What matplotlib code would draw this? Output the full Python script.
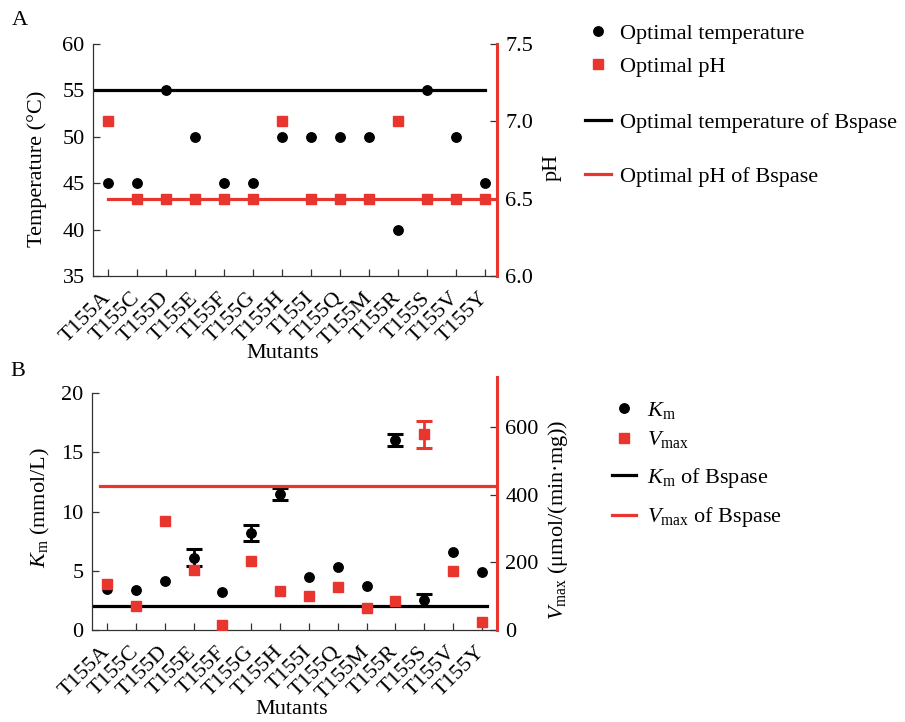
import numpy as np
import matplotlib.pyplot as plt
from matplotlib.lines import Line2D

plt.rcParams['font.family'] = ['Liberation Serif', 'DejaVu Serif']
plt.rcParams['mathtext.fontset'] = 'custom'
plt.rcParams['mathtext.rm'] = 'Liberation Serif'
plt.rcParams['mathtext.it'] = 'Liberation Serif:italic'
plt.rcParams['font.size'] = 16

mutants = ['T155A', 'T155C', 'T155D', 'T155E', 'T155F', 'T155G', 'T155H',
           'T155I', 'T155Q', 'T155M', 'T155R', 'T155S', 'T155V', 'T155Y']
opt_temp = [45, 45, 55, 50, 45, 45, 50, 50, 50, 50, 40, 55, 50, 45]
opt_ph = [7.0, 6.5, 6.5, 6.5, 6.5, 6.5, 7.0, 6.5, 6.5, 6.5, 7.0, 6.5, 6.5, 6.5]
bspase_temp = 55
bspase_ph = 6.5

km = [3.5, 3.4, 4.1, 6.1, 3.2, 8.2, 11.5, 4.5, 5.3, 3.7, 16.0, 2.5, 6.6, 4.9]
km_err = [0, 0, 0, 0.7, 0, 0.7, 0.5, 0, 0, 0, 0.5, 0.5, 0, 0]
vmax = [135, 70, 322, 178, 15, 205, 116, 101, 126, 65, 85, 578, 175, 23]
vmax_err = [0, 0, 0, 0, 0, 0, 0, 0, 0, 0, 0, 40, 0, 0]
bspase_km = 2.0
bspase_vmax = 425

RED = '#e8352e'
x = np.arange(len(mutants))

fig = plt.figure(figsize=(9.05, 7.22), dpi=100)


def style_axes(ax, ax2, xlim):
    ax.set_xlim(*xlim)
    for s in ['top', 'right']:
        ax.spines[s].set_visible(False)
    for s in ['left', 'bottom']:
        ax.spines[s].set_color('#333333')
        ax.spines[s].set_linewidth(0.9)
    for s in ['top', 'left', 'bottom']:
        ax2.spines[s].set_visible(False)
    ax2.spines['right'].set_color(RED)
    ax2.spines['right'].set_linewidth(2.2)
    ax.tick_params(direction='in', length=5, width=0.9, color='#333333', labelsize=16, pad=6)
    ax2.tick_params(direction='in', length=5, width=0.9, color='#333333', labelsize=16, pad=6)
    ax.set_xticks(x)
    ax.set_xticklabels(mutants, rotation=45, ha='right', va='center', rotation_mode='anchor')
    ax.tick_params(axis='x', pad=14)


# ---- panel A ----
axA = fig.add_axes([0.1028, 0.6177, 0.4464, 0.3220])
axA2 = axA.twinx()
style_axes(axA, axA2, (-0.52, 13.41))
axA.set_ylim(35, 60)
axA.set_yticks([35, 40, 45, 50, 55, 60])
axA2.set_ylim(6.0, 7.5)
axA2.set_yticks([6.0, 6.5, 7.0, 7.5])
axA2.set_yticklabels(['6.0', '6.5', '7.0', '7.5'])

axA.plot([-0.52, 13], [bspase_temp, bspase_temp], color='black', lw=2.3, zorder=2)
axA.plot(x, opt_temp, 'o', color='black', ms=6.8, zorder=3)
axA2.plot([0, 13.41], [bspase_ph, bspase_ph], color=RED, lw=2.3, zorder=2)
axA2.plot(x, opt_ph, 's', color=RED, ms=7.2, zorder=3)

axA.set_ylabel('Temperature (°C)', fontsize=16, va='center')
axA.yaxis.set_label_coords(-0.139, 0.46)
axA2.set_ylabel('pH', fontsize=16, va='center')
axA2.yaxis.set_label_coords(1.136, 0.465)
axA.set_xlabel('Mutants', fontsize=16, va='center')
axA.xaxis.set_label_coords(0.47, -0.335)

# ---- panel B ----
axB = fig.add_axes([0.1017, 0.1274, 0.4475, 0.3504])
axB2 = axB.twinx()
style_axes(axB, axB2, (-0.52, 13.52))
axB.set_ylim(0, 21.35)
axB.set_yticks([0, 5, 10, 15, 20])
axB.spines['left'].set_bounds(0, 20)
axB2.set_ylim(0, 747)
axB2.set_yticks([0, 200, 400, 600])

km_idx = [i for i in range(len(mutants)) if km_err[i] > 0]
vm_idx = [i for i in range(len(mutants)) if vmax_err[i] > 0]

axB.plot([-0.52, 13.17], [bspase_km, bspase_km], color='black', lw=2.3, zorder=2)
axB.plot(x, km, 'o', color='black', ms=6.8, zorder=3)
axB.errorbar([x[i] for i in km_idx], [km[i] for i in km_idx],
             yerr=[km_err[i] for i in km_idx], fmt='none', ecolor='black',
             elinewidth=2, capsize=6, capthick=2.2, zorder=3)
axB2.plot([-0.25, 13.52], [bspase_vmax, bspase_vmax], color=RED, lw=2.3, zorder=2)
axB2.plot(x, vmax, 's', color=RED, ms=7.2, zorder=3)
axB2.errorbar([x[i] for i in vm_idx], [vmax[i] for i in vm_idx],
              yerr=[vmax_err[i] for i in vm_idx], fmt='none', ecolor=RED,
              elinewidth=2, capsize=6, capthick=2.2, zorder=3)

axB.set_ylabel(r'$K_{\mathrm{m}}$ (mmol/L)', fontsize=16, va='center')
axB.yaxis.set_label_coords(-0.128, 0.486)
axB2.set_ylabel(r'$V_{\mathrm{max}}$ (μmol/(min·mg))', fontsize=16, va='center')
axB2.yaxis.set_label_coords(1.151, 0.435)
axB.set_xlabel('Mutants', fontsize=16, va='center')
axB.xaxis.set_label_coords(0.494, -0.316)

# ---- panel letters ----
fig.text(0.013, 0.972, 'A', fontsize=16, va='center')
fig.text(0.012, 0.485, 'B', fontsize=16, va='center')

# ---- legends ----
W, H = 905.0, 722.0


def add_legend(handles, labels, left_px, center_px, spacing, hlen, tpad):
    leg = fig.legend(handles, labels, loc='center left',
                     bbox_to_anchor=(left_px / W, 1 - center_px / H),
                     frameon=False, fontsize=16, borderpad=0, borderaxespad=0,
                     handlelength=hlen, handletextpad=tpad, labelspacing=spacing)
    return leg


dot = Line2D([], [], marker='o', color='black', ls='none', ms=6.8)
sq = Line2D([], [], marker='s', color=RED, ls='none', ms=7.2)
bl = Line2D([], [], color='black', lw=2.3)
rl = Line2D([], [], color=RED, lw=2.3)

add_legend([dot, sq], ['Optimal temperature', 'Optimal pH'], 585, 50, 0.55, 1.17, 0.4)
add_legend([bl, rl], ['Optimal temperature of Bspase', 'Optimal pH of Bspase'], 585, 149.5, 1.5, 1.17, 0.4)
add_legend([dot, sq], [r'$K_{\mathrm{m}}$', r'$V_{\mathrm{max}}$'], 612, 425, 0.4, 1.08, 0.5)
add_legend([bl, rl], [r'$K_{\mathrm{m}}$ of Bspase', r'$V_{\mathrm{max}}$ of Bspase'], 612, 497.5, 0.7, 1.08, 0.5)

fig.savefig('out.png', dpi=100)
